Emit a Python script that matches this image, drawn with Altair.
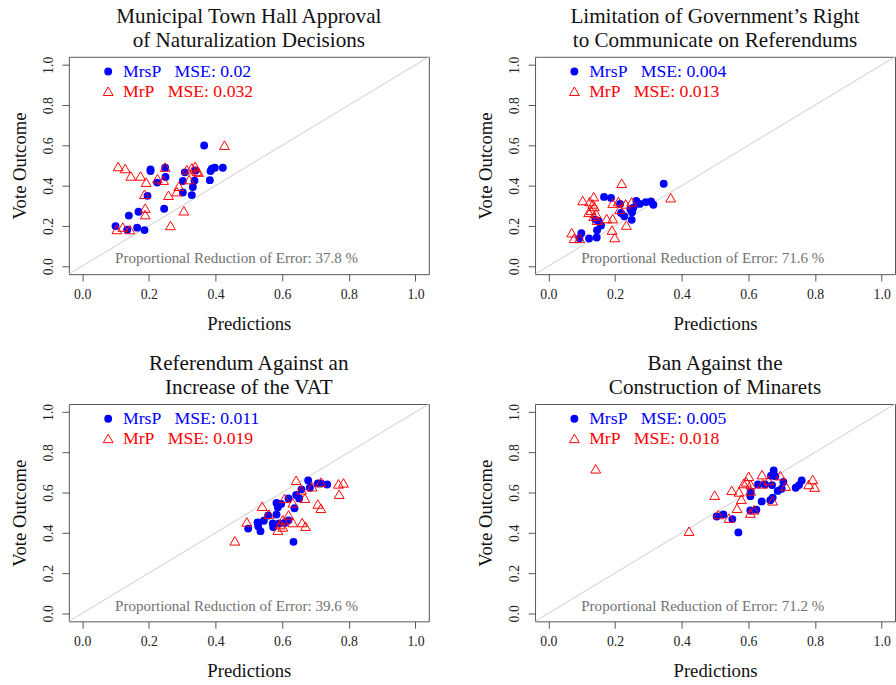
import altair as alt
import pandas as pd

titles = [
    ["Municipal Town Hall Approval", "of Naturalization Decisions"],
    ["Limitation of Government\u2019s Right", "to Communicate on Referendums"],
    ["Referendum Against an", "Increase of the VAT"],
    ["Ban Against the", "Construction of Minarets"],
]
mse_mrsp = ["0.02", "0.004", "0.011", "0.005"]
mse_mrp = ["0.032", "0.013", "0.019", "0.018"]
pre_values = ["37.8", "71.6", "39.6", "71.2"]

tick_values = [0.0, 0.2, 0.4, 0.6, 0.8, 1.0]
axis_range = [-0.04, 1.04]

# Panel 1
p1_mrsp_x = [0.366, 0.100, 0.135, 0.165, 0.187, 0.140, 0.169, 0.196, 0.205, 0.205, 0.225, 0.246, 0.249,
             0.250, 0.302, 0.308, 0.302, 0.329, 0.332, 0.337, 0.383, 0.385, 0.389, 0.398, 0.422, 0.340]
p1_mrsp_y = [0.599, 0.199, 0.181, 0.191, 0.179, 0.251, 0.270, 0.349, 0.480, 0.472, 0.415, 0.285, 0.489,
             0.443, 0.423, 0.466, 0.366, 0.353, 0.393, 0.425, 0.427, 0.472, 0.484, 0.489, 0.489, 0.475]
p1_mrp_x = [0.427, 0.108, 0.129, 0.146, 0.175, 0.192, 0.187, 0.189, 0.189, 0.104, 0.122, 0.143, 0.226,
            0.244, 0.249, 0.259, 0.265, 0.284, 0.290, 0.305, 0.314, 0.321, 0.329, 0.339, 0.344, 0.349]
p1_mrp_y = [0.601, 0.495, 0.485, 0.448, 0.448, 0.417, 0.357, 0.288, 0.256, 0.182, 0.194, 0.182, 0.435,
            0.427, 0.492, 0.352, 0.202, 0.370, 0.397, 0.275, 0.479, 0.430, 0.489, 0.495, 0.472, 0.467]

# Panel 2
p2_mrsp_x = [0.346, 0.167, 0.188, 0.215, 0.218, 0.228, 0.246, 0.251, 0.250, 0.264, 0.274, 0.292, 0.308,
             0.315, 0.141, 0.151, 0.158, 0.146, 0.145, 0.122, 0.099, 0.093, 0.255]
p2_mrsp_y = [0.409, 0.344, 0.339, 0.309, 0.264, 0.248, 0.283, 0.267, 0.230, 0.324, 0.309, 0.318, 0.321,
             0.305, 0.231, 0.223, 0.202, 0.178, 0.142, 0.137, 0.163, 0.138, 0.290]
p2_mrp_x = [0.220, 0.367, 0.103, 0.124, 0.136, 0.133, 0.138, 0.121, 0.128, 0.143, 0.136, 0.146, 0.175,
            0.193, 0.193, 0.210, 0.214, 0.232, 0.250, 0.234, 0.191, 0.199, 0.070, 0.077, 0.094]
p2_mrp_y = [0.412, 0.340, 0.326, 0.321, 0.345, 0.309, 0.296, 0.267, 0.277, 0.261, 0.248, 0.228, 0.236,
            0.236, 0.313, 0.321, 0.282, 0.309, 0.319, 0.204, 0.179, 0.142, 0.166, 0.138, 0.138]

# Panel 3
p3_mrsp_x = [0.498, 0.526, 0.528, 0.535, 0.545, 0.558, 0.572, 0.573, 0.583, 0.583, 0.587, 0.597, 0.591,
             0.607, 0.619, 0.619, 0.637, 0.634, 0.642, 0.651, 0.658, 0.678, 0.683, 0.707, 0.717, 0.735]
p3_mrsp_y = [0.421, 0.452, 0.433, 0.408, 0.460, 0.486, 0.446, 0.429, 0.491, 0.548, 0.527, 0.543, 0.446,
             0.449, 0.462, 0.571, 0.522, 0.355, 0.588, 0.571, 0.616, 0.660, 0.624, 0.645, 0.645, 0.640]
p3_mrp_x = [0.458, 0.494, 0.540, 0.560, 0.587, 0.594, 0.602, 0.602, 0.607, 0.619, 0.632, 0.632, 0.642,
            0.658, 0.660, 0.670, 0.668, 0.690, 0.707, 0.716, 0.716, 0.769, 0.784, 0.771]
p3_mrp_y = [0.360, 0.454, 0.532, 0.493, 0.413, 0.441, 0.429, 0.465, 0.571, 0.489, 0.451, 0.549, 0.661,
            0.613, 0.451, 0.433, 0.572, 0.629, 0.543, 0.522, 0.652, 0.643, 0.648, 0.592]

# Panel 4
p4_mrsp_x = [0.505, 0.525, 0.552, 0.570, 0.606, 0.607, 0.606, 0.624, 0.629, 0.640, 0.650, 0.666, 0.673,
             0.668, 0.676, 0.681, 0.671, 0.688, 0.700, 0.705, 0.742, 0.752, 0.760]
p4_mrsp_y = [0.481, 0.491, 0.468, 0.402, 0.582, 0.605, 0.511, 0.515, 0.640, 0.556, 0.640, 0.562, 0.575,
             0.684, 0.710, 0.681, 0.637, 0.608, 0.619, 0.653, 0.624, 0.637, 0.660]
p4_mrp_x = [0.142, 0.422, 0.499, 0.510, 0.542, 0.550, 0.572, 0.579, 0.566, 0.586, 0.594, 0.601, 0.607,
            0.607, 0.606, 0.617, 0.641, 0.643, 0.661, 0.673, 0.696, 0.712, 0.781, 0.793, 0.799]
p4_mrp_y = [0.718, 0.408, 0.587, 0.491, 0.473, 0.611, 0.603, 0.567, 0.522, 0.645, 0.653, 0.681, 0.640,
            0.608, 0.498, 0.514, 0.689, 0.643, 0.660, 0.559, 0.684, 0.632, 0.640, 0.665, 0.627]

mrsp_x = [p1_mrsp_x, p2_mrsp_x, p3_mrsp_x, p4_mrsp_x]
mrsp_y = [p1_mrsp_y, p2_mrsp_y, p3_mrsp_y, p4_mrsp_y]
mrp_x = [p1_mrp_x, p2_mrp_x, p3_mrp_x, p4_mrp_x]
mrp_y = [p1_mrp_y, p2_mrp_y, p3_mrp_y, p4_mrp_y]

FONT = "Liberation Serif"
BLUE = "#0000ff"
RED = "#ff0000"
W, H = 366, 221


def enc_xy():
    xs = alt.Scale(domain=axis_range, nice=False, zero=False)
    ys = alt.Scale(domain=axis_range, nice=False, zero=False)
    xa = alt.Axis(values=tick_values, format=".1f", title="Predictions", domain=False, grid=False,
                  tickSize=7, tickColor="#555555", labelPadding=7, titlePadding=13, labelAngle=0)
    ya = alt.Axis(values=tick_values, format=".1f", title="Vote Outcome", domain=False, grid=False,
                  tickSize=7, tickColor="#555555", labelPadding=7, titlePadding=12,
                  labelAngle=-90, labelAlign="center", labelBaseline="bottom")
    return dict(x=alt.X("x:Q", scale=xs, axis=xa), y=alt.Y("y:Q", scale=ys, axis=ya))


def panel(i):
    diag = alt.Chart(pd.DataFrame({"x": axis_range, "y": axis_range})).mark_line(
        color="#cccccc", strokeWidth=1, clip=True).encode(**enc_xy())
    blue = alt.Chart(pd.DataFrame({"x": mrsp_x[i], "y": mrsp_y[i]})).mark_point(
        shape="circle", filled=True, color=BLUE, size=64, opacity=1, clip=True).encode(**enc_xy())
    red = alt.Chart(pd.DataFrame({"x": mrp_x[i], "y": mrp_y[i]})).mark_point(
        shape="triangle-up", filled=False, color=RED, size=100, strokeWidth=1, opacity=1,
        clip=True).encode(**enc_xy())
    leg = pd.DataFrame({"t": [0]})
    leg_dot = alt.Chart(leg).mark_point(shape="circle", filled=True, color=BLUE, size=64, opacity=1).encode(
        x=alt.value(40), y=alt.value(15))
    leg_tri = alt.Chart(leg).mark_point(shape="triangle-up", filled=False, color=RED, size=100,
                                        strokeWidth=1, opacity=1).encode(x=alt.value(40), y=alt.value(35))
    txt1 = alt.Chart(pd.DataFrame({"t": ["MrsP\u00a0\u00a0\u00a0MSE: " + mse_mrsp[i]]})).mark_text(
        align="left", baseline="middle", font=FONT, fontSize=18, color=BLUE).encode(
        x=alt.value(55), y=alt.value(15.5), text="t:N")
    txt2 = alt.Chart(pd.DataFrame({"t": ["MrP\u00a0\u00a0\u00a0MSE: " + mse_mrp[i]]})).mark_text(
        align="left", baseline="middle", font=FONT, fontSize=18, color=RED).encode(
        x=alt.value(55), y=alt.value(36), text="t:N")
    pre = alt.Chart(pd.DataFrame({"t": ["Proportional Reduction of Error: " + pre_values[i] + " %"]})).mark_text(
        align="center", baseline="middle", font=FONT, fontSize=15.3, color="#707070").encode(
        x=alt.value(170.5), y=alt.value(205), text="t:N")
    return alt.layer(diag, blue, red, leg_dot, leg_tri, txt1, txt2, pre).properties(
        width=W, height=H,
        title=alt.TitleParams(text=titles[i], fontSize=21.5, font=FONT, fontWeight="normal",
                              anchor="middle", offset=5, lineHeight=24, color="#111111"))


chart = alt.concat(panel(0), panel(1), panel(2), panel(3), columns=2,
                   spacing={"row": 132, "column": 108}, bounds="flush").properties(
    padding={"left": 10, "top": 0, "right": 0, "bottom": 0},
    background="white"
).configure_view(stroke="#555555", strokeWidth=1).configure_axis(
    labelFont=FONT, labelFontSize=14, labelColor="#222222",
    titleFont=FONT, titleFontSize=19, titleFontWeight="normal", titleColor="#111111"
)

chart.save("out.html", embed_options={"renderer": "svg", "actions": False})
